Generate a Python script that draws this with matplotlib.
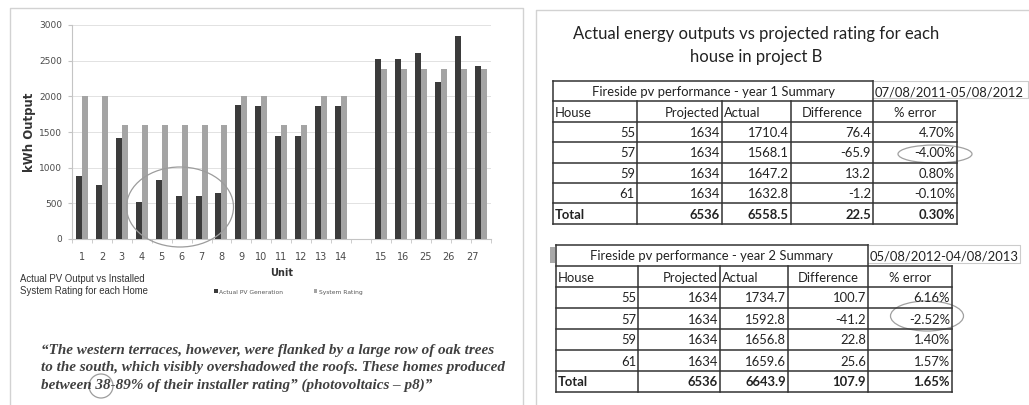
import matplotlib
matplotlib.use("Agg")
import matplotlib.pyplot as plt
from matplotlib.patches import Ellipse, Rectangle
import numpy as np

## Data - bar chart (left panel)
units_left = [str(i) for i in range(1, 15)]
units_right = ["15", "16", "25", "26", "27"]
actual_pv = [880, 760, 1410, 515, 825, 600, 600, 640, 1875, 1870, 1450, 1450, 1870, 1870,
             2520, 2520, 2605, 2205, 2845, 2430]
system_rating = [2000, 2000, 1600, 1600, 1600, 1600, 1600, 1600, 2000, 2000, 1600, 1600, 2000, 2000,
                 2390, 2390, 2390, 2390, 2390, 2390]
series_names = ["Actual PV Generation", "System Rating"]

## Data - tables (right panel)
houses = ["55", "57", "59", "61"]
projected = [1634, 1634, 1634, 1634]
y1_actual = [1710.4, 1568.1, 1647.2, 1632.8]
y1_diff = [76.4, -65.9, 13.2, -1.2]
y1_err = [4.70, -4.00, 0.80, -0.10]
y1_total = [6536, 6558.5, 22.5, 0.30]
y2_actual = [1734.7, 1592.8, 1656.8, 1659.6]
y2_diff = [100.7, -41.2, 22.8, 25.6]
y2_err = [6.16, -2.52, 1.40, 1.57]
y2_total = [6536, 6643.9, 107.9, 1.65]

quote = ("\u201cThe western terraces, however, were flanked by a large row of oak trees\n"
         "to the south, which visibly overshadowed the roofs. These homes produced\n"
         "between 38-89% of their installer rating\u201d (photovoltaics \u2013 p8)\u201d")

W, H = 1029, 405
fig = plt.figure(figsize=(W / 100, H / 100), dpi=100)
fig.patch.set_facecolor("white")

# --- bar chart ---
ax = fig.add_axes([72 / W, 1 - 239 / H, 418.5 / W, 214 / H])
pos = np.array(list(range(14)) + list(range(15, 21)))
bw = 0.3
b1 = ax.bar(pos - bw / 2, actual_pv, bw, color="#3b3b3b", zorder=3, label=series_names[0])
b2 = ax.bar(pos + bw / 2, system_rating, bw, color="#a4a4a4", zorder=3, label=series_names[1])
ax.set_xlim(-0.5, 20.5)
ax.set_ylim(0, 3000)
ax.set_yticks(np.arange(0, 3001, 500))
ax.grid(axis="y", color="#e2e2e2", lw=0.7, zorder=0)
for s in ["top", "right"]:
    ax.spines[s].set_visible(False)
for s in ["left", "bottom"]:
    ax.spines[s].set_color("#c4c4c4")
ax.set_xticks(list(range(14)) + [15.0, 16.1, 17.25, 18.4, 19.6])
ax.set_xticklabels(units_left + units_right)
ax.set_xticks(np.arange(-0.5, 21, 1), minor=True)
ax.tick_params(axis="x", which="major", length=0, pad=9, labelsize=7, labelcolor="#4a4a4a")
ax.tick_params(axis="x", which="minor", length=3, color="#c4c4c4")
ax.tick_params(axis="y", length=3, color="#c4c4c4", labelsize=6.5, labelcolor="#4a4a4a", pad=4)
ax.set_xlabel("Unit", fontsize=7, fontweight="bold", color="#333333", labelpad=5)
ax.set_ylabel("kWh Output", fontsize=8.5, fontweight="bold", color="#333333", labelpad=2)

fig.legend(handles=[b1, b2], labels=series_names, loc="center left", bbox_to_anchor=(211 / W, 1 - 292 / H),
           ncol=2, fontsize=4.3, frameon=False, handlelength=0.6, handleheight=0.6,
           handletextpad=0.2, columnspacing=5.2, labelcolor="#555555", borderpad=0)

# --- overlay in pixel coordinates ---
ov = fig.add_axes([0, 0, 1, 1])
ov.set_xlim(0, W)
ov.set_ylim(H, 0)
ov.axis("off")

# panel frames
ov.plot([10, 10, 523, 523], [H, 8, 8, H], color="#d2d2d2", lw=1)
ov.plot([536, 536, W], [H, 10, 10], color="#d2d2d2", lw=1)

ov.text(20, 285, "Actual PV Output vs Installed\nSystem Rating for each Home", fontsize=6.9,
        family="Liberation Sans", color="#333333", va="center", ha="left", linespacing=1.25)

ov.text(41, 368, quote, fontsize=10.9, family="Liberation Serif", style="italic", fontweight="bold",
        color="#404040", va="center", ha="left", linespacing=1.46)

# annotation circles
ov.add_patch(Ellipse((180, 207), 107, 80, fill=False, ec="#9c9c9c", lw=0.9))
ov.add_patch(Ellipse((101, 386), 24, 24, fill=False, ec="#9c9c9c", lw=0.9))

# right panel title
ov.text(756, 45.5, "Actual energy outputs vs projected rating for each\nhouse in project B",
        fontsize=12, family="Lato", color="#222222", ha="center", va="center", linespacing=1.55)

tfont = dict(family="Lato", fontsize=9.4, color="#222222")


def draw_table(top, cols, row_h, title, date, actual, diff, err, total, date_right):
    rows = [top + i * row_h for i in range(8)]
    lc = "#333333"
    left, right = cols[0], cols[-1]
    # title row
    ov.plot([left, cols[4]], [top, top], color=lc, lw=1.1)
    ov.plot([cols[4], date_right, date_right, cols[4]], [top, top, top + row_h - 3, top + row_h - 3],
            color="#cccccc", lw=0.8)
    for y in rows[1:]:
        ov.plot([left, right], [y, y], color=lc, lw=1.1)
    ov.plot([left, left], [top, rows[-1]], color=lc, lw=1.1)
    ov.plot([cols[4], cols[4]], [top, rows[-1]], color=lc, lw=1.1)
    for x in [cols[1], cols[2], cols[3], cols[5]]:
        ov.plot([x, x], [rows[1], rows[-1]], color=lc, lw=1.1)
    ym = lambda r: (rows[r] + rows[r + 1]) / 2 + 1
    ov.text((left + cols[4]) / 2, ym(0), title, ha="center", va="center", **tfont)
    ov.text(cols[4] + 2, ym(0), date, ha="left", va="center", **tfont)
    ov.text(left + 2, ym(1), "House", ha="left", va="center", **tfont)
    ov.text(cols[2] - 2, ym(1), "Projected", ha="right", va="center", **tfont)
    ov.text(cols[2] + 2, ym(1), "Actual", ha="left", va="center", **tfont)
    ov.text((cols[3] + cols[4]) / 2, ym(1), "Difference", ha="center", va="center", **tfont)
    ov.text((cols[4] + cols[5]) / 2, ym(1), "% error", ha="center", va="center", **tfont)
    for i in range(4):
        vals = [houses[i], f"{projected[i]}", f"{actual[i]:.1f}", f"{diff[i]:.1f}", f"{err[i]:.2f}%"]
        for j, v in enumerate(vals):
            ov.text(cols[j + 1] - 2, ym(i + 2), v, ha="right", va="center", **tfont)
    ov.text(left + 2, ym(6), "Total", ha="left", va="center", fontweight="bold", **tfont)
    tv = [f"{total[0]}", f"{total[1]:.1f}", f"{total[2]:.1f}", f"{total[3]:.2f}%"]
    for j, v in enumerate(tv):
        ov.text(cols[j + 2] - 2, ym(6), v, ha="right", va="center", fontweight="bold", **tfont)
    return rows


draw_table(81, [553, 637, 722, 791, 873, 957], 20.4, "Fireside pv performance - year 1 Summary",
           "07/08/2011-05/08/2012", y1_actual, y1_diff, y1_err, y1_total, 1028)
draw_table(245, [556, 638, 720, 788, 868, 952], 21, "Fireside pv performance - year 2 Summary",
           "05/08/2012-04/08/2013", y2_actual, y2_diff, y2_err, y2_total, 1020)
ov.add_patch(Rectangle((550, 247), 5, 16, color="#a8a8a8", lw=0))

ov.add_patch(Ellipse((935, 154), 74, 18, fill=False, ec="#a0a0a0", lw=0.9))
ov.add_patch(Ellipse((927, 316), 73, 30, fill=False, ec="#a0a0a0", lw=0.9))

fig.savefig("out.png", dpi=100, facecolor="white")
